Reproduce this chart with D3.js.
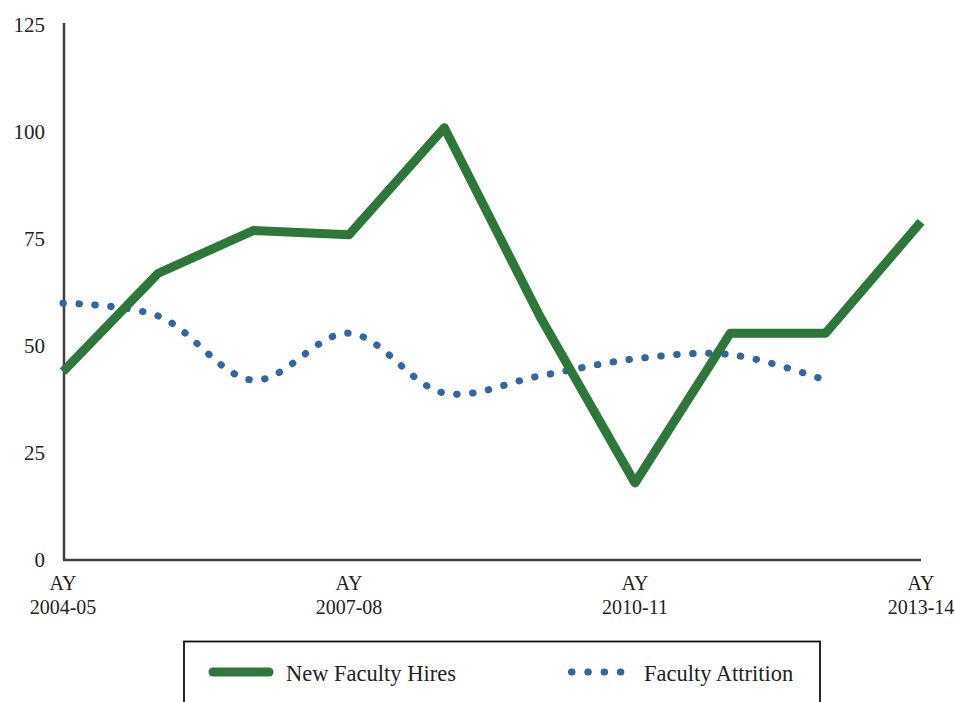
<!DOCTYPE html>
<html>
<head>
<meta charset="utf-8">
<script src="https://cdn.jsdelivr.net/npm/d3@7"></script>
<style>
  body { margin: 0; background: #fff; }
</style>
</head>
<body>
<div id="chart"></div>
<script>
// data
const years = ["2004-05", "2005-06", "2006-07", "2007-08", "2008-09",
    "2009-10", "2010-11", "2011-12", "2012-13", "2013-14"];
const newHires = [44, 67, 77, 76, 101, 57, 18, 53, 53, 79];
const attrition = [60, 57, 42, 53, 39, 43, 47, 48, 42];
const yTicks = [0, 25, 50, 75, 100, 125];
const labelledYears = ["2004-05", "2007-08", "2010-11", "2013-14"];

const wSvg = 955, hSvg = 702;
const green = "#2e773b", blue = "#31669e";
const serif = "'Liberation Serif', 'Times New Roman', serif";

let svg = d3.select("#chart").append("svg")
    .attr("width", wSvg).attr("height", hSvg);

const xScale = d3.scalePoint()
    .domain(years)
    .range([63, 921]);

const yScale = d3.scaleLinear()
    .domain([0, 125])
    .range([560, 25]);

// y axis
let yAxis = svg.append("g")
    .attr("transform", "translate(64,0)")
    .call(d3.axisLeft(yScale).tickValues(yTicks).tickSize(0).tickPadding(19));
yAxis.attr("font-family", null).attr("font-size", null);
yAxis.select(".domain").attr("stroke", "#404040").attr("stroke-width", 2.5)
    .attr("d", `M0,${yScale(125) - 2}V${yScale(0)}`);
yAxis.selectAll("text")
    .style("font-family", serif)
    .style("font-size", "21px")
    .attr("fill", "#222");

// x axis
let xAxis = svg.append("g")
    .attr("transform", `translate(0,${yScale(0)})`)
    .call(d3.axisBottom(xScale).tickSize(0).tickFormat(""));
xAxis.select(".domain").attr("stroke", "#404040").attr("stroke-width", 2.5)
    .attr("d", `M63,0H921`);

// year labels, two lines each
let yearLabels = svg.append("g").selectAll("text")
    .data(labelledYears)
    .enter()
    .append("text")
    .attr("x", d => xScale(d))
    .attr("text-anchor", "middle")
    .attr("fill", "#222")
    .style("font-family", serif)
    .style("font-size", "20px");
yearLabels.append("tspan").attr("x", d => xScale(d)).attr("y", 590).text("AY");
yearLabels.append("tspan").attr("x", d => xScale(d)).attr("y", 614).text(d => d);

// attrition, smoothed dotted line
const attritionLine = d3.line()
    .x((d, i) => xScale(years[i]))
    .y(d => yScale(d))
    .curve(d3.curveCatmullRom.alpha(0.5));

svg.append("path")
    .datum(attrition)
    .attr("d", attritionLine)
    .attr("fill", "none")
    .attr("stroke", blue)
    .attr("stroke-width", 7)
    .attr("stroke-linecap", "round")
    .attr("stroke-dasharray", "0.5 15.5");

// new hires, straight thick line
const hiresLine = d3.line()
    .x((d, i) => xScale(years[i]))
    .y(d => yScale(d));

svg.append("path")
    .datum(newHires)
    .attr("d", hiresLine)
    .attr("fill", "none")
    .attr("stroke", green)
    .attr("stroke-width", 9)
    .attr("stroke-linejoin", "round")
    .attr("stroke-linecap", "butt");

// legend
let legend = svg.append("g");
legend.append("rect")
    .attr("x", 184).attr("y", 641.5)
    .attr("width", 636).attr("height", 80)
    .attr("fill", "none").attr("stroke", "#111").attr("stroke-width", 1.8);

legend.append("line")
    .attr("x1", 213).attr("x2", 269).attr("y1", 672).attr("y2", 672)
    .attr("stroke", green).attr("stroke-width", 9).attr("stroke-linecap", "round");
legend.append("text")
    .attr("x", 286).attr("y", 681)
    .attr("fill", "#222")
    .style("font-family", serif)
    .style("font-size", "22.5px")
    .text("New Faculty Hires");

legend.append("line")
    .attr("x1", 571.5).attr("x2", 621).attr("y1", 672).attr("y2", 672)
    .attr("stroke", blue).attr("stroke-width", 7).attr("stroke-linecap", "round")
    .attr("stroke-dasharray", "0.5 15.8");
legend.append("text")
    .attr("x", 644).attr("y", 681)
    .attr("fill", "#222")
    .style("font-family", serif)
    .style("font-size", "22.5px")
    .text("Faculty Attrition");
</script>
</body>
</html>
